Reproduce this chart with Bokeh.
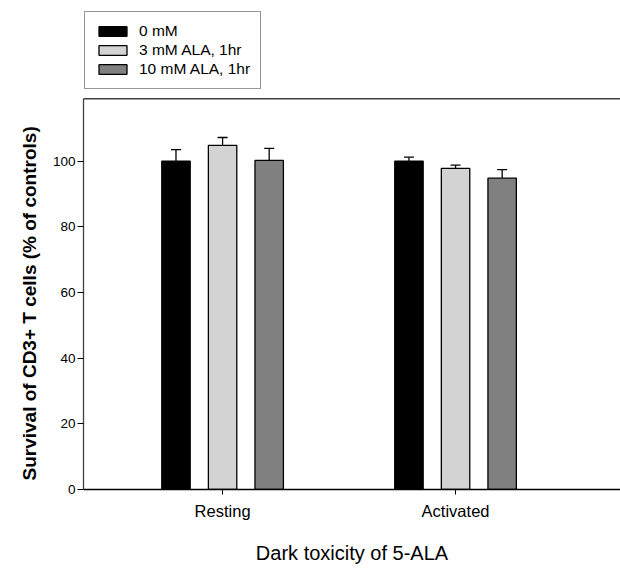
from bokeh.plotting import figure
from bokeh.models import (ColumnDataSource, Whisker, Legend, LegendItem, Range1d,
                          Span, FixedTicker, TeeHead, Title)
from bokeh.embed import file_html
from bokeh.resources import INLINE

# ---- data ----
categories = ["Resting", "Activated"]
series_names = ["0 mM", "3 mM ALA, 1hr", "10 mM ALA, 1hr"]
means_0mM = [100.0, 100.0]
means_3mM = [104.8, 97.8]
means_10mM = [100.2, 94.8]
err_0mM = [3.5, 1.2]
err_3mM = [2.4, 1.0]
err_10mM = [3.7, 2.6]
y_ticks = [0, 20, 40, 60, 80, 100]

series_means = [means_0mM, means_3mM, means_10mM]
series_errs = [err_0mM, err_3mM, err_10mM]
colors = ["#000000", "#d3d3d3", "#808080"]
offsets = [-0.2, 0.0, 0.2]
bar_width = 0.122

font = "Liberation Sans"
y_max = 119          # top of the drawn axis area
H = 566
top_border = 5
bottom_border = 73
frame_h = H - top_border - bottom_border
axis_px = 394        # pixel height of the 0..y_max part
y_end = y_max * frame_h / axis_px   # extra room above for the legend

p = figure(width=620, height=H, output_backend="svg", toolbar_location=None,
           x_range=Range1d(0.403, 2.708), y_range=Range1d(0, y_end),
           min_border_left=83, min_border_right=0, min_border_top=top_border,
           min_border_bottom=bottom_border)
p.outline_line_color = None
p.grid.visible = False
p.background_fill_color = "white"
p.border_fill_color = "white"

items = []
xc = list(range(1, len(categories) + 1))
for name, m, e, c, off in zip(series_names, series_means, series_errs, colors, offsets):
    xs = [x + off for x in xc]
    src = ColumnDataSource(dict(x=xs, top=m, upper=[a + b for a, b in zip(m, e)]))
    r = p.vbar(x="x", top="top", width=bar_width, source=src, fill_color=c,
               line_color="black", line_width=1.3)
    w = Whisker(base="x", lower="top", upper="upper", source=src, dimension="height",
                line_color="black", line_width=1.3, lower_head=None,
                upper_head=TeeHead(size=10, line_color="black", line_width=1.3))
    p.add_layout(w)
    items.append(LegendItem(label=name, renderers=[r]))

# top frame line
p.add_layout(Span(location=y_max, dimension="width", line_color="#404040", line_width=1.3))

legend = Legend(items=items, location=(1, axis_px + 6), padding=10, spacing=1,
                glyph_width=35, glyph_height=12, label_height=18, label_standoff=9,
                label_text_font=font, label_text_font_size="15.5px",
                label_text_color="black",
                border_line_color="#303030", border_line_width=1.3,
                background_fill_alpha=1.0, margin=0)
p.add_layout(legend)

# axes
p.xaxis.ticker = FixedTicker(ticks=xc)
p.xaxis.major_label_overrides = {x: c for x, c in zip(xc, categories)}
p.xaxis.axis_label = "Dark toxicity of 5-ALA"
p.xaxis.axis_label_text_font = font
p.xaxis.axis_label_text_font_size = "20px"
p.xaxis.axis_label_text_font_style = "normal"
p.xaxis.axis_label_standoff = 19
p.xaxis.major_label_text_font = font
p.xaxis.major_label_text_font_size = "16.5px"
p.xaxis.major_label_standoff = 7
p.xaxis.major_tick_out = 5
p.xaxis.major_tick_in = 0
p.xaxis.minor_tick_line_color = None
p.xaxis.axis_line_color = "black"
p.xaxis.axis_line_width = 1.3

p.yaxis.ticker = FixedTicker(ticks=y_ticks)
p.yaxis.bounds = (0, y_max)
p.yaxis.major_label_text_font = font
p.yaxis.major_label_text_font_size = "13.5px"
p.yaxis.major_label_standoff = 2
p.yaxis.major_tick_out = 6
p.yaxis.major_tick_in = 0
p.yaxis.minor_tick_line_color = None
p.yaxis.axis_line_color = "#404040"
p.yaxis.axis_line_width = 1.3
p.axis.major_label_text_color = "black"
p.axis.axis_label_text_color = "black"

# y-axis label as a side title, starting a little above the bottom of the axis
ylab = Title(text="Survival of CD3+ T cells (% of controls)", align="left",
             offset=9, standoff=20,
             text_font=font, text_font_size="19px", text_font_style="bold",
             text_color="black")
p.add_layout(ylab, "left")

open("out.html", "w").write(file_html(p, INLINE))
